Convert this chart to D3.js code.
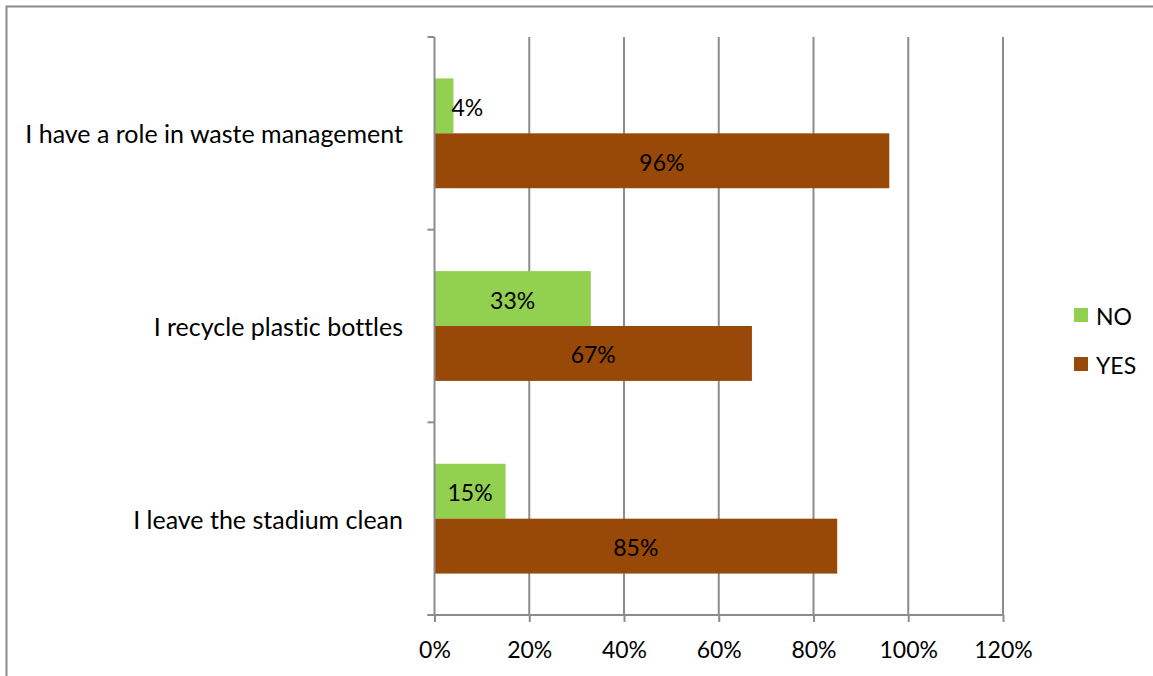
<!DOCTYPE html>
<html>
<head>
<meta charset="utf-8">
<script src="https://cdn.jsdelivr.net/npm/d3@7"></script>
<style>
  html, body { margin: 0; padding: 0; background: #fff; }
  svg { display: block; font-family: Lato, "Open Sans", sans-serif; font-variant-ligatures: none; }
</style>
</head>
<body>
<svg id="chart" width="1153" height="676"></svg>
<script>
// Survey answers per statement (percent)
const categories = [
  "I have a role in waste management",
  "I recycle plastic bottles",
  "I leave the stadium clean"
];
const seriesNames = ["NO", "YES"];
const noValues = [4, 33, 15];
const yesValues = [96, 67, 85];
const xTicks = [0, 20, 40, 60, 80, 100, 120];
const seriesColors = ["#92D050", "#984807"];

const svg = d3.select("#chart");
const W = 1153, H = 676;
const fontSize = 23;
const catFontSize = 25;

// chart frame
svg.append("rect")
  .attr("x", 6.5).attr("y", 6.5)
  .attr("width", W + 10).attr("height", H + 10)
  .attr("fill", "none").attr("stroke", "#8a8a8a").attr("stroke-width", 2);

const plot = { left: 434.5, right: 1003, top: 37, bottom: 615 };

const x = d3.scaleLinear().domain([0, 120]).range([plot.left, plot.right]);
const y = d3.scaleBand().domain(categories)
  .range([plot.top, plot.bottom])
  .paddingInner(0.43).paddingOuter(0.215);
const ySeries = d3.scaleBand().domain(seriesNames).range([0, y.bandwidth()]);
const color = d3.scaleOrdinal().domain(seriesNames).range(seriesColors);

const rows = categories.map((c, i) => ({
  category: c,
  values: [
    { series: "NO", value: noValues[i] },
    { series: "YES", value: yesValues[i] }
  ]
}));

// vertical gridlines
svg.append("g")
  .selectAll("line")
  .data(xTicks.slice(1))
  .join("line")
  .attr("x1", d => x(d)).attr("x2", d => x(d))
  .attr("y1", plot.top).attr("y2", plot.bottom)
  .attr("stroke", "#8c8c8c").attr("stroke-width", 2);

// bars
const groups = svg.append("g")
  .selectAll("g")
  .data(rows)
  .join("g")
  .attr("transform", d => `translate(0,${y(d.category)})`);

groups.selectAll("rect")
  .data(d => d.values)
  .join("rect")
  .attr("x", x(0))
  .attr("y", d => ySeries(d.series))
  .attr("width", d => x(d.value) - x(0))
  .attr("height", ySeries.bandwidth())
  .attr("fill", d => color(d.series));

// value labels: centred in the bar, or just past its end when it is too narrow
groups.selectAll("text")
  .data(d => d.values)
  .join("text")
  .attr("font-size", fontSize)
  .attr("fill", "#000")
  .attr("dominant-baseline", "central")
  .attr("y", d => ySeries(d.series) + ySeries.bandwidth() / 2 + 1)
  .each(function (d) {
    const t = d3.select(this).text(d.value + "%");
    const w = this.getComputedTextLength();
    const barW = x(d.value) - x(0);
    if (barW > w + 4) {
      t.attr("x", (x(0) + x(d.value)) / 2).attr("text-anchor", "middle");
    } else {
      t.attr("x", x(d.value) - 2).attr("text-anchor", "start");
    }
  });

// y axis (category axis) with boundary ticks on the left
const axisColor = "#8c8c8c";
const yAxis = svg.append("g");
yAxis.append("line")
  .attr("x1", plot.left).attr("x2", plot.left)
  .attr("y1", plot.top).attr("y2", plot.bottom)
  .attr("stroke", axisColor).attr("stroke-width", 2);
const boundaries = categories.map(c => y(c) - y.step() * y.paddingInner() / 2)
  .concat([plot.bottom]);
yAxis.selectAll("line.tick")
  .data(boundaries)
  .join("line")
  .attr("class", "tick")
  .attr("x1", plot.left - 7).attr("x2", plot.left)
  .attr("y1", d => d).attr("y2", d => d)
  .attr("stroke", axisColor).attr("stroke-width", 2);
yAxis.selectAll("text")
  .data(categories)
  .join("text")
  .attr("x", 403)
  .attr("y", d => y(d) + y.bandwidth() / 2)
  .attr("text-anchor", "end")
  .attr("dominant-baseline", "central")
  .attr("font-size", catFontSize)
  .attr("fill", "#000")
  .text(d => d);

// x axis
const xAxis = svg.append("g")
  .attr("transform", `translate(0,${plot.bottom})`)
  .call(d3.axisBottom(x).tickValues(xTicks).tickFormat(d => d + "%").tickSize(7).tickSizeOuter(0));
xAxis.select(".domain").attr("stroke", axisColor).attr("stroke-width", 2)
  .attr("d", `M${plot.left - 7},0H${plot.right}`);
xAxis.selectAll(".tick line").attr("stroke", axisColor).attr("stroke-width", 2);
xAxis.selectAll(".tick text")
  .attr("font-size", fontSize)
  .attr("font-family", "Lato, 'Open Sans', sans-serif")
  .attr("fill", "#000")
  .attr("y", 35)
  .attr("dy", "0.35em");

// legend
const legend = svg.append("g")
  .selectAll("g")
  .data(seriesNames)
  .join("g")
  .attr("transform", (d, i) => `translate(1074,${308 + i * 49})`);
legend.append("rect")
  .attr("width", 14).attr("height", 14)
  .attr("fill", d => color(d));
legend.append("text")
  .attr("x", 22).attr("y", 8)
  .attr("dominant-baseline", "central")
  .attr("font-size", fontSize)
  .attr("fill", "#000")
  .text(d => d);
</script>
</body>
</html>
